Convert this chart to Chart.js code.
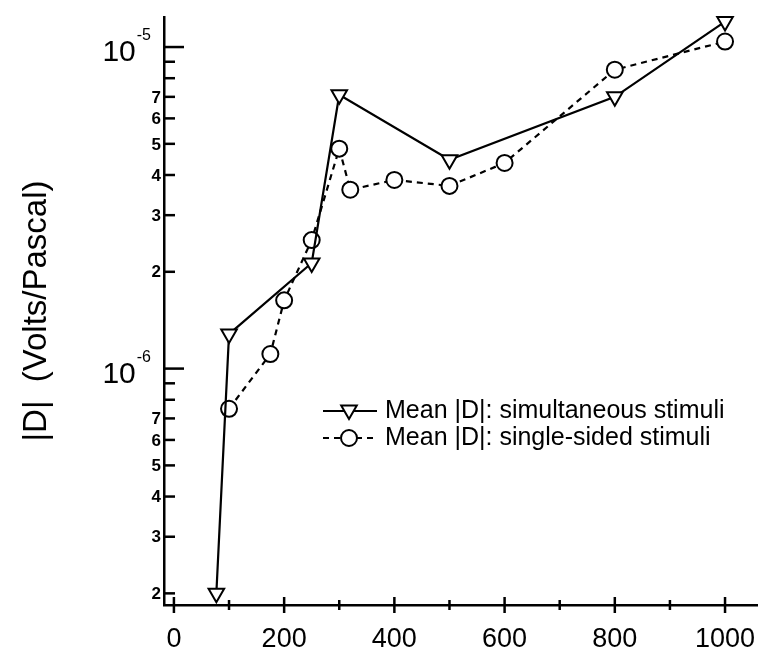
<!DOCTYPE html>
<html>
<head>
<meta charset="utf-8">
<script src="https://cdn.jsdelivr.net/npm/chart.js@4/dist/chart.umd.min.js"></script>
<style>
html,body{margin:0;padding:0;background:#fff;}
#wrap{width:760px;height:655px;}
</style>
</head>
<body>
<div id="wrap"><canvas id="c" width="760" height="655"></canvas></div>
<script>
// ---- data ----
const xSim = [77, 100, 250, 300, 500, 800, 1000];
const ySim = [2.0e-7, 1.28e-6, 2.13e-6, 7.1e-6, 4.46e-6, 7.0e-6, 1.2e-5];
const xSingle = [100, 175, 200, 250, 300, 320, 400, 500, 600, 800, 1000];
const ySingle = [7.5e-7, 1.11e-6, 1.63e-6, 2.51e-6, 4.83e-6, 3.6e-6, 3.86e-6, 3.7e-6, 4.36e-6, 8.5e-6, 1.04e-5];
const xTickValues = [0, 100, 200, 300, 400, 500, 600, 700, 800, 900, 1000];
const xTickLabels = ['0', '', '200', '', '400', '', '600', '', '800', '', '1000'];
const yTickValues = [2e-7,3e-7,4e-7,5e-7,6e-7,7e-7,8e-7,9e-7,1e-6,2e-6,3e-6,4e-6,5e-6,6e-6,7e-6,8e-6,9e-6,1e-5];
const yTickLabels = ['2','3','4','5','6','7','','','10|-6','2','3','4','5','6','7','','','10|-5'];
const seriesNames = ['Mean |D|: simultaneous stimuli', 'Mean |D|: single-sided stimuli'];
const yTitle = '|D|  (Volts/Pascal)';

const FONT = '"Liberation Sans", Arial, Helvetica, sans-serif';

function pts(xs, ys){ return xs.map((x,i)=>({x:x, y:ys[i]})); }

function drawTri(ctx, x, y, r){
  ctx.beginPath();
  ctx.moveTo(x - r*0.866, y - r*0.5);
  ctx.lineTo(x + r*0.866, y - r*0.5);
  ctx.lineTo(x, y + r);
  ctx.closePath();
  ctx.fillStyle = '#fff'; ctx.fill();
  ctx.stroke();
}
function drawCirc(ctx, x, y, r){
  ctx.beginPath();
  ctx.arc(x, y, r, 0, Math.PI*2);
  ctx.fillStyle = '#fff'; ctx.fill();
  ctx.stroke();
}

const decor = {
  id: 'decor',
  afterDraw(chart){
    const ctx = chart.ctx;
    const xs = chart.scales.x, ys = chart.scales.y;
    const axisY = xs.top;      // x axis line
    const axisX = ys.right;    // y axis line
    ctx.save();
    ctx.strokeStyle = '#000';
    ctx.fillStyle = '#000';
    // x ticks crossing the axis, with labels
    ctx.lineWidth = 2.5;
    ctx.font = '27px ' + FONT;
    ctx.textAlign = 'center'; ctx.textBaseline = 'middle';
    xTickValues.forEach((v,i)=>{
      const px = xs.getPixelForValue(v);
      const h = (v % 200 === 0) ? 8 : 5;
      ctx.beginPath(); ctx.moveTo(px, axisY - h); ctx.lineTo(px, axisY + h); ctx.stroke();
      if (xTickLabels[i]) ctx.fillText(xTickLabels[i], px, axisY + 35);
    });
    // y ticks inward + labels
    yTickValues.forEach((v,i)=>{
      const py = ys.getPixelForValue(v);
      const lab = yTickLabels[i];
      const major = lab.indexOf('|') >= 0;
      const len = major ? 20 : 11;
      ctx.lineWidth = 2.5;
      ctx.beginPath(); ctx.moveTo(axisX, py); ctx.lineTo(axisX + len, py); ctx.stroke();
      ctx.fillStyle = '#000';
      if (major){
        const parts = lab.split('|');
        ctx.font = '16px ' + FONT;
        const supW = ctx.measureText(parts[1]).width;
        ctx.font = '30px ' + FONT;
        ctx.textAlign = 'right'; ctx.textBaseline = 'middle';
        const baseRight = axisX - 14 - supW;
        ctx.fillText(parts[0], baseRight, py + 6);
        ctx.font = '16px ' + FONT;
        ctx.textAlign = 'left';
        ctx.fillText(parts[1], baseRight + 1, py - 11);
      } else if (lab) {
        ctx.font = 'bold 17px ' + FONT;
        ctx.textAlign = 'right'; ctx.textBaseline = 'middle';
        ctx.fillText(lab, axisX - 3, py + 1);
      }
    });
    // legend
    const lx0 = 323, lx1 = 377, lmx = 349, ltx = 385;
    const rows = [411, 438];
    ctx.lineWidth = 2;
    ctx.font = '25px ' + FONT;
    ctx.textAlign = 'left'; ctx.textBaseline = 'middle';
    ctx.setLineDash([]);
    ctx.beginPath(); ctx.moveTo(lx0, rows[0]); ctx.lineTo(lx1, rows[0]); ctx.stroke();
    drawTri(ctx, lmx, rows[0] - 1, 9);
    ctx.fillStyle = '#000';
    ctx.fillText(seriesNames[0], ltx, rows[0]);
    ctx.setLineDash([6,5]);
    ctx.beginPath(); ctx.moveTo(lx0, rows[1]); ctx.lineTo(lx1, rows[1]); ctx.stroke();
    ctx.setLineDash([]);
    drawCirc(ctx, lmx, rows[1], 8);
    ctx.fillStyle = '#000';
    ctx.fillText(seriesNames[1], ltx, rows[1]);
    ctx.restore();
  }
};

new Chart(document.getElementById('c'), {
  type: 'line',
  data: {
    datasets: [
      {
        label: seriesNames[0],
        data: pts(xSim, ySim),
        borderColor: '#000', borderWidth: 2.2,
        pointStyle: 'triangle', pointRotation: 180, pointRadius: 9,
        pointBackgroundColor: '#fff', pointBorderColor: '#000', pointBorderWidth: 2,
        tension: 0, clip: false
      },
      {
        label: seriesNames[1],
        data: pts(xSingle, ySingle),
        borderColor: '#000', borderWidth: 2.2, borderDash: [6,5],
        pointStyle: 'circle', pointRadius: 8,
        pointBackgroundColor: '#fff', pointBorderColor: '#000', pointBorderWidth: 2,
        tension: 0, clip: false
      }
    ]
  },
  options: {
    responsive: false,
    animation: false,
    devicePixelRatio: 1,
    layout: { autoPadding: false, padding: { top: 17, right: 3, left: 0, bottom: 0 } },
    plugins: { legend: { display: false }, tooltip: { enabled: false } },
    scales: {
      x: {
        type: 'linear', min: -18, max: 1058,
        grid: { display: false },
        border: { display: true, color: '#000', width: 2.5 },
        afterBuildTicks(s){ s.ticks = xTickValues.map(v=>({value:v})); },
        ticks: { display: false },
        afterFit(s){ s.height = 50; }
      },
      y: {
        type: 'logarithmic', min: 1.84e-7, max: 1.24e-5,
        grid: { display: false },
        border: { display: true, color: '#000', width: 2.5 },
        afterBuildTicks(s){ s.ticks = yTickValues.map(v=>({value:v})); },
        ticks: { display: false },
        title: { display: true, text: yTitle, color: '#000', font: { family: FONT, size: 33 }, padding: { top: 17, bottom: 0 } },
        afterFit(s){ s.width = 164; }
      }
    }
  },
  plugins: [decor]
});
</script>
</body>
</html>
